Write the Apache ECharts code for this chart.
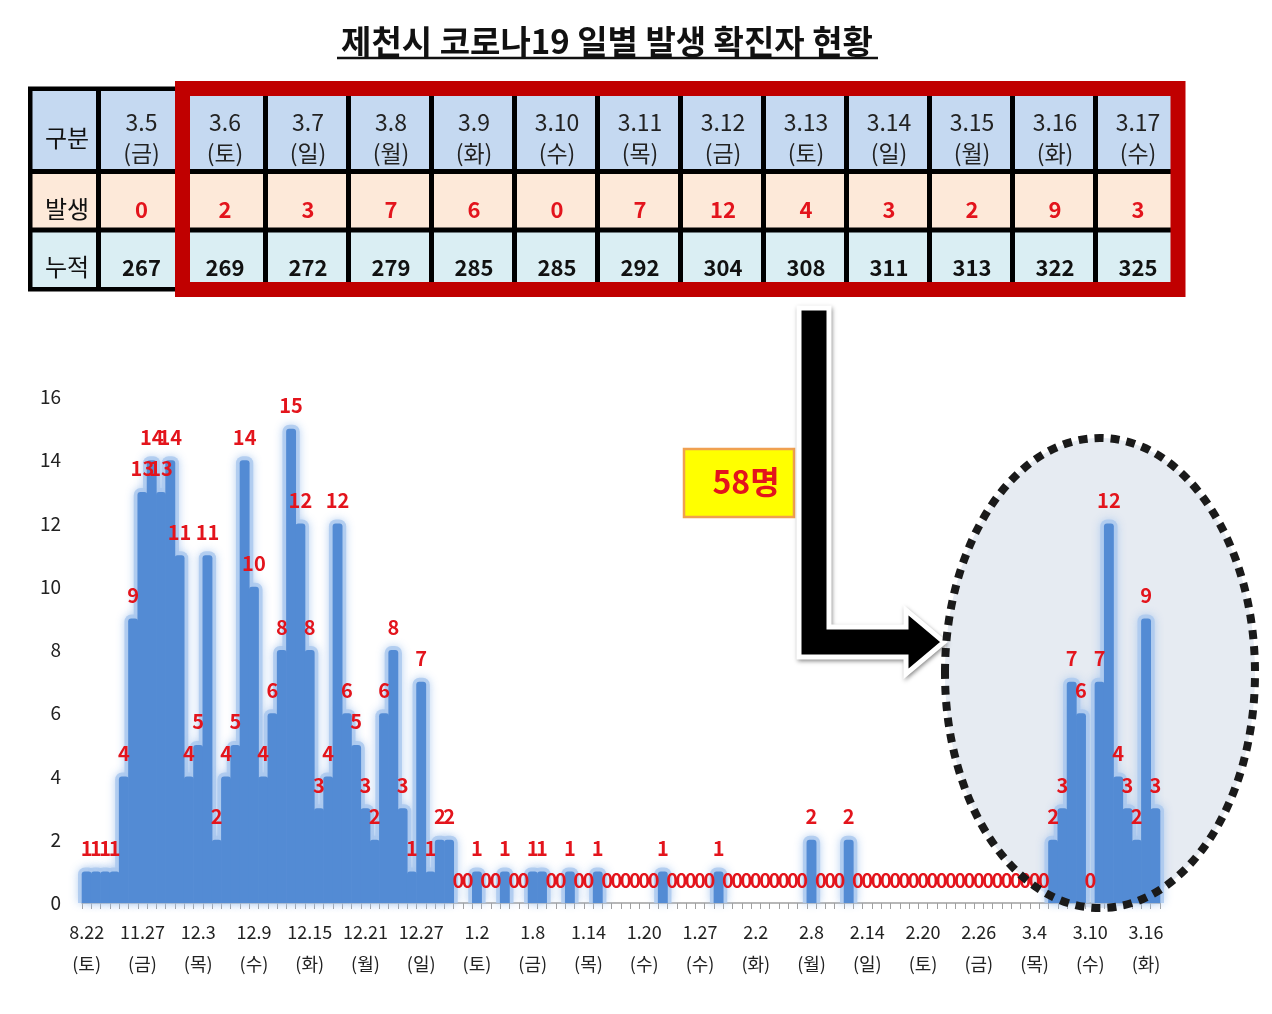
<!DOCTYPE html>
<html>
<head>
<meta charset="utf-8">
<script src="https://cdn.jsdelivr.net/npm/echarts@6/dist/echarts.min.js"></script>
<style>
html,body{margin:0;padding:0;background:#fff;}
#chart{width:1272px;height:1014px;}
</style>
</head>
<body>
<div id="chart"></div>
<script>
// ---------- data ----------
const categories = ['8.22(토)','11.9(월)','11.21(토)','11.24(화)','11.25(수)','11.26(목)','11.27(금)','11.28(토)','11.29(일)','11.30(월)',
'12.1(화)','12.2(수)','12.3(목)','12.4(금)','12.5(토)','12.6(일)','12.7(월)','12.8(화)','12.9(수)','12.10(목)',
'12.11(금)','12.12(토)','12.13(일)','12.14(월)','12.15(화)','12.16(수)','12.17(목)','12.18(금)','12.19(토)','12.20(일)',
'12.21(월)','12.22(화)','12.23(수)','12.24(목)','12.25(금)','12.26(토)','12.27(일)','12.28(월)','12.29(화)','12.30(수)',
'12.31(목)','1.1(금)','1.2(토)','1.3(일)','1.4(월)','1.5(화)','1.6(수)','1.7(목)','1.8(금)','1.9(토)',
'1.10(일)','1.11(월)','1.12(화)','1.13(수)','1.14(목)','1.15(금)','1.16(토)','1.17(일)','1.18(월)','1.19(화)',
'1.20(수)','1.21(목)','1.22(금)','1.23(토)','1.25(월)','1.26(화)','1.27(수)','1.28(목)','1.29(금)','1.30(토)',
'1.31(일)','2.1(월)','2.2(화)','2.3(수)','2.4(목)','2.5(금)','2.6(토)','2.7(일)','2.8(월)','2.9(화)',
'2.10(수)','2.11(목)','2.12(금)','2.13(토)','2.14(일)','2.15(월)','2.16(화)','2.17(수)','2.18(목)','2.19(금)',
'2.20(토)','2.21(일)','2.22(월)','2.23(화)','2.24(수)','2.25(목)','2.26(금)','2.27(토)','2.28(일)','3.1(월)',
'3.2(화)','3.3(수)','3.4(목)','3.5(금)','3.6(토)','3.7(일)','3.8(월)','3.9(화)','3.10(수)','3.11(목)',
'3.12(금)','3.13(토)','3.14(일)','3.15(월)','3.16(화)','3.17(수)'];

const dailyCases = [1,1,1,1,4,9,13,14,13,14,
11,4,5,11,2,4,5,14,10,4,
6,8,15,12,8,3,4,12,6,5,
3,2,6,8,3,1,7,1,2,2,
0,0,1,0,0,1,0,0,1,1,
0,0,1,0,0,1,0,0,0,0,
0,0,1,0,0,0,0,0,1,0,
0,0,0,0,0,0,0,0,2,0,
0,0,2,0,0,0,0,0,0,0,
0,0,0,0,0,0,0,0,0,0,
0,0,0,0,2,3,7,6,0,7,
12,4,3,2,9,3];

const yTicks = [0,2,4,6,8,10,12,14,16];

const tableRowLabels = ['구분','발생','누적'];
const tableDates = ['3.5','3.6','3.7','3.8','3.9','3.10','3.11','3.12','3.13','3.14','3.15','3.16','3.17'];
const tableDays  = ['금','토','일','월','화','수','목','금','토','일','월','화','수'];
const tableNew   = [0,2,3,7,6,0,7,12,4,3,2,9,3];
const tableCum   = [267,269,272,279,285,285,292,304,308,311,313,322,325];

const titleText = '제천시 코로나19 일별 발생 확진자 현황';
const totalText = '58명';

// ---------- layout ----------
const FONT = "'Noto Sans CJK KR','Noto Sans',sans-serif";
const LABEL_RED = '#E3141C';
const chart = echarts.init(document.getElementById('chart'));

function txt(text, x, y, size, color, weight, z) {
  return {
    type: 'text', z: z || 20,
    style: {
      text: text, x: x, y: y,
      fill: color, font: (weight || 'normal') + ' ' + size + 'px ' + FONT,
      align: 'center', verticalAlign: 'middle',
      textAlign: 'center', textVerticalAlign: 'middle'
    }
  };
}
function rect(x, y, w, h, fill, z) {
  return { type: 'rect', z: z || 10, shape: { x: x, y: y, width: w, height: h }, style: { fill: fill } };
}

const g = [];
// title
g.push(txt(titleText, 607, 41, 33, '#111', 'bold'));
g.push({ type: 'line', z: 20, shape: { x1: 337, y1: 58, x2: 878, y2: 58 }, style: { stroke: '#111', lineWidth: 2.5 } });

// table
const tLeft = 28, tRight = 1180, tTop = 86.5, tBot = 291.5;
g.push(rect(tLeft, tTop, tRight - tLeft, tBot - tTop, '#000', 10));
const rowEdges = [tTop, 171.5, 230, tBot];
const rowFills = ['#C5D9F1', '#FDE9D9', '#DAEEF3'];
const colPitch = 83;
const colEdges = [tLeft, 98.5];
for (let j = 0; j < tableDates.length; j++) colEdges.push(182.5 + colPitch * j);
colEdges[colEdges.length - 1] = tRight;
const half = 2.5;
for (let r = 0; r < 3; r++) {
  const y0 = rowEdges[r] + (r === 0 ? 4.5 : half);
  const y1 = rowEdges[r + 1] - (r === 2 ? 4.5 : half);
  for (let c = 0; c < colEdges.length - 1; c++) {
    const x0 = colEdges[c] + (c === 0 ? 4.5 : half);
    const x1 = colEdges[c + 1] - (c === colEdges.length - 2 ? 4.5 : half);
    g.push(rect(x0, y0, x1 - x0, y1 - y0, rowFills[r], 11));
  }
}
const rowTextY = [138, 209, 267];
for (let r = 0; r < 3; r++) g.push(txt(tableRowLabels[r], 67, rowTextY[r], 24, '#111', 'normal'));
for (let j = 0; j < tableDates.length; j++) {
  const cx = (colEdges[j + 1] + colEdges[j + 2]) / 2;
  const cxx = j === tableDates.length - 1 ? 1138 : cx + 1;
  g.push(txt(tableDates[j], cxx, 122, 23, '#222', 'normal'));
  g.push(txt('(' + tableDays[j] + ')', cxx, 153, 23, '#222', 'normal'));
  g.push(txt(String(tableNew[j]), cxx, 210, 22, LABEL_RED, 'bold'));
  g.push(txt(String(tableCum[j]), cxx, 268, 22, '#111', 'bold'));
}
// red frame
g.push({ type: 'rect', z: 15, shape: { x: 182.5, y: 88.5, width: 995.5, height: 201 },
  style: { fill: null, stroke: '#C00000', lineWidth: 15 } });

// ellipse highlight
g.push({ type: 'ellipse', z: 0, shape: { cx: 1100, cy: 673, rx: 155, ry: 235 },
  style: { fill: '#E6EBF2' } });
g.push({ type: 'ellipse', z: 30, shape: { cx: 1100, cy: 673, rx: 155, ry: 235 },
  style: { fill: null, stroke: '#1a1a1a', lineWidth: 8, lineDash: [9, 7] } });

// 58 box
g.push({ type: 'rect', z: 20, shape: { x: 684, y: 449, width: 110, height: 68 },
  style: { fill: '#FFFF00', stroke: '#F0A050', lineWidth: 2.5 } });
g.push(txt(totalText, 746, 482, 32, LABEL_RED, 'bold', 21));

// arrow
g.push({ type: 'polygon', z: 25,
  shape: { points: [[799,308],[829,308],[829,627],[906,627],[906,610],[944,642],[906,674],[906,657],[799,657]] },
  style: { fill: '#000', stroke: '#fff', lineWidth: 5, lineJoin: 'miter',
    shadowBlur: 4, shadowColor: 'rgba(0,0,0,0.35)', shadowOffsetX: 1, shadowOffsetY: 2 } });

// ---------- series renderers ----------
const seriesData = dailyCases.map((v, i) => [i, v]);

function renderGlow(params, api) {
  const i = api.value(0), v = api.value(1);
  if (!v) return null;
  const top = api.coord([i, v]);
  const base = api.coord([i, 0]);
  const bw = api.size([1, 0])[0];
  const pad = 4;
  return {
    type: 'rect',
    shape: { x: top[0] - bw / 2 - pad, y: top[1] - pad, width: bw + pad * 2, height: base[1] - top[1] + pad, r: [7, 7, 0, 0] },
    style: { fill: 'rgba(172,201,238,0.85)', shadowBlur: 8, shadowColor: 'rgba(165,197,238,0.95)' }
  };
}
function renderMain(params, api) {
  const i = api.value(0), v = api.value(1);
  const top = api.coord([i, v]);
  const base = api.coord([i, 0]);
  const bw = api.size([1, 0])[0];
  const children = [];
  if (v > 0) {
    children.push({
      type: 'rect', z2: 1,
      shape: { x: top[0] - bw / 2 - 0.3, y: top[1], width: bw + 0.6, height: base[1] - top[1], r: [3, 3, 0, 0] },
      style: { fill: '#538BD4' }
    });
  }
  children.push({
    type: 'text', z2: 100,
    style: {
      text: String(v), x: top[0], y: top[1] - 13,
      fill: LABEL_RED, font: 'bold 20px ' + FONT,
      align: 'center', verticalAlign: 'bottom',
      textAlign: 'center', textVerticalAlign: 'bottom'
    }
  });
  return { type: 'group', children: children };
}

const option = {
  animation: false,
  backgroundColor: '#fff',
  grid: { left: 82, right: 112, top: 397, bottom: 111, containLabel: false },
  xAxis: {
    type: 'category',
    data: categories,
    boundaryGap: true,
    axisLine: { show: true, lineStyle: { color: '#a0a0a0', width: 1.5 } },
    axisTick: { show: true, interval: 0, length: 6, lineStyle: { color: '#a0a0a0' } },
    axisLabel: {
      interval: 5, margin: 13, fontSize: 18, lineHeight: 32, color: '#222', fontFamily: FONT,
      formatter: v => v.replace('(', '\n(')
    },
    splitLine: { show: false }
  },
  yAxis: {
    type: 'value', min: yTicks[0], max: yTicks[yTicks.length - 1], interval: 2,
    axisLine: { show: false }, axisTick: { show: false }, splitLine: { show: false },
    axisLabel: { margin: 21, fontSize: 19, color: '#222', fontFamily: FONT }
  },
  series: [
    { name: 'glow', type: 'custom', z: 2, silent: true, clip: false,
      renderItem: renderGlow, encode: { x: 0, y: 1 }, data: seriesData },
    { name: '확진자', type: 'custom', z: 3, clip: false,
      renderItem: renderMain, encode: { x: 0, y: 1 }, data: seriesData }
  ],
  graphic: { elements: g }
};
chart.setOption(option);
</script>
</body>
</html>
